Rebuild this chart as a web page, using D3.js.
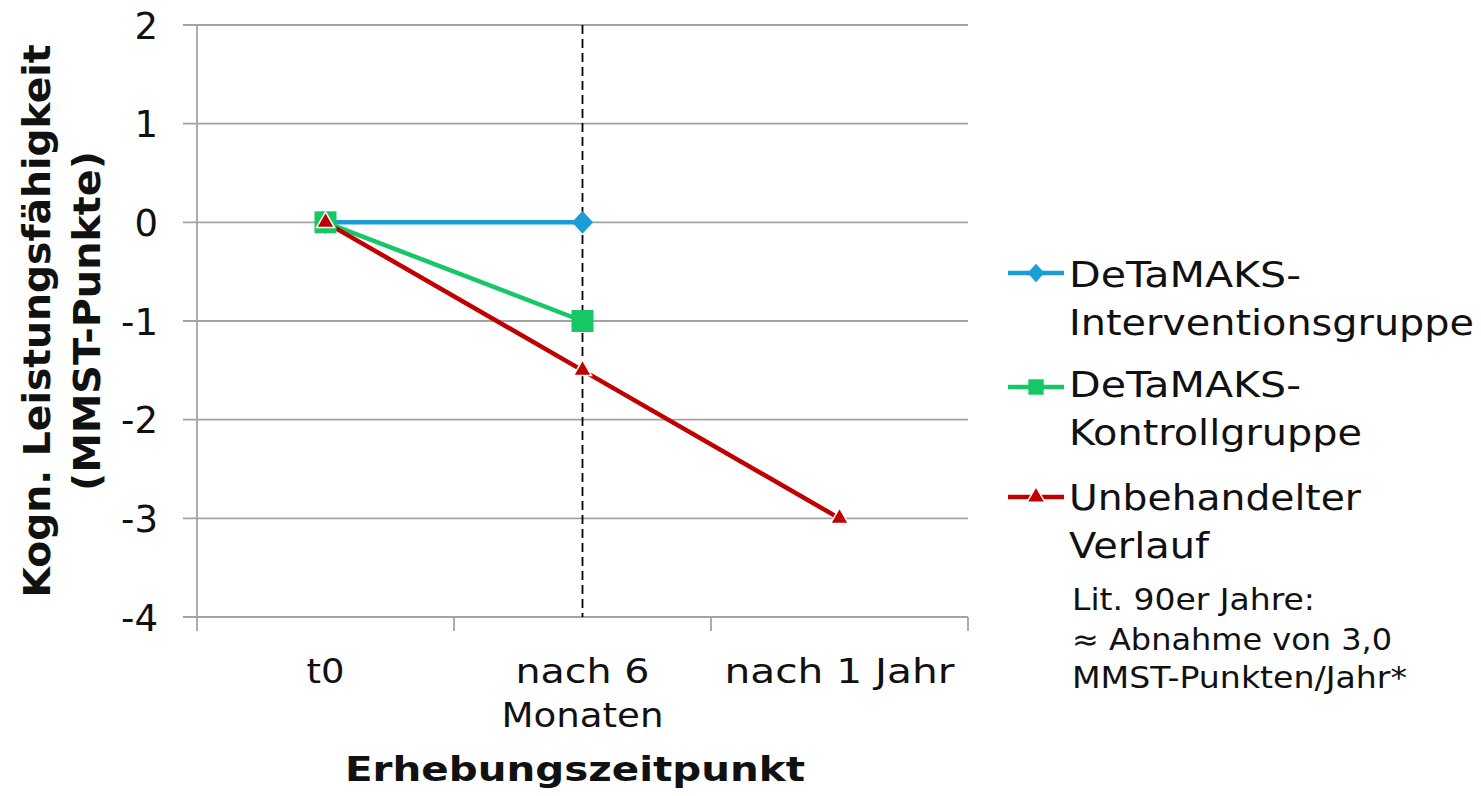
<!DOCTYPE html>
<html><head><meta charset="utf-8">
<script src="https://cdn.jsdelivr.net/npm/d3@7"></script>
<style>body{margin:0;background:#fff}svg{display:block}text{font-family:"DejaVu Sans",Verdana,sans-serif}</style>
</head><body>
<svg id="c" width="1481" height="796"></svg>
<script>
const categories = ["t0", "nach 6 Monaten", "nach 1 Jahr"];
const categoryLines = [["t0"], ["nach 6", "Monaten"], ["nach 1 Jahr"]];
const yTicks = [2, 1, 0, -1, -2, -3, -4];
const interventionValues = [0, 0, null];
const kontrollValues = [0, -1, null];
const unbehandeltValues = [0, -1.5, -3];
const seriesNames = [["DeTaMAKS-", "Interventionsgruppe"], ["DeTaMAKS-", "Kontrollgruppe"], ["Unbehandelter", "Verlauf"]];
const noteLines = ["Lit. 90er Jahre:", "≈ Abnahme von 3,0", "MMST-Punkten/Jahr*"];
const yTitleLines = ["Kogn. Leistungsfähigkeit", "(MMST-Punkte)"];
const xTitle = "Erhebungszeitpunkt";
const dashedAt = "nach 6 Monaten";

// rendered text widths (style only) to emulate the reference's wider typeface
const textWidths = {
  "t0": 38, "nach 6": 134, "Monaten": 162, "nach 1 Jahr": 230,
  "Erhebungszeitpunkt": 460,
  "Kogn. Leistungsfähigkeit": 553, "(MMST-Punkte)": 340,
  "DeTaMAKS-": 232, "Interventionsgruppe": 405, "Kontrollgruppe": 293,
  "Unbehandelter": 292, "Verlauf": 140,
  "Lit. 90er Jahre:": 243, "≈ Abnahme von 3,0": 320, "MMST-Punkten/Jahr*": 335
};
function fit(sel, t) {
  if (textWidths[t]) sel.attr("textLength", textWidths[t]).attr("lengthAdjust", "spacingAndGlyphs");
  return sel;
}

const svg = d3.select("#c");
const L = 197, R = 968, T = 25, B = 617;
const x = d3.scaleBand().domain(categories).range([L, R]);
const y = d3.scaleLinear().domain([-4, 2]).range([B, T]);
const grid = "#a3a3a3";
const ink = "#111";

// gridlines + left tick marks
svg.append("g").selectAll("line").data(yTicks).join("line")
  .attr("x1", L - 14).attr("x2", R).attr("y1", d => y(d)).attr("y2", d => y(d))
  .attr("stroke", grid).attr("stroke-width", 1.8);
svg.append("line").attr("x1", L).attr("x2", L).attr("y1", T).attr("y2", B).attr("stroke", grid).attr("stroke-width", 1.8);
const xt = categories.map(c => x(c)).concat([R]);
svg.append("g").selectAll("line").data(xt).join("line")
  .attr("x1", d => d).attr("x2", d => d).attr("y1", B).attr("y2", B + 14)
  .attr("stroke", grid).attr("stroke-width", 1.8);

// y tick labels
svg.append("g").selectAll("text").data(yTicks).join("text")
  .attr("x", 158).attr("y", d => y(d)).attr("dy", "0.37em").attr("text-anchor", "end")
  .attr("font-size", 37).attr("fill", ink).text(d => d);

// x tick labels
const cx = c => x(c) + x.bandwidth() / 2;
categories.forEach((c, i) => {
  categoryLines[i].forEach((t, j) => {
    fit(svg.append("text").attr("x", cx(c)).attr("y", 683 + j * 44).attr("text-anchor", "middle")
      .attr("font-size", 34).attr("fill", ink).text(t), t);
  });
});

// axis titles
fit(svg.append("text").attr("x", 575).attr("y", 781).attr("text-anchor", "middle")
  .attr("font-size", 34).attr("font-weight", "bold").attr("fill", ink).text(xTitle), xTitle);
const yt = svg.append("g").attr("transform", "translate(0,321) rotate(-90)");
yTitleLines.forEach((t, j) => {
  fit(yt.append("text").attr("x", 0).attr("y", 50 + j * 50).attr("text-anchor", "middle")
    .attr("font-size", 37).attr("font-weight", "bold").attr("fill", ink).text(t), t);
});

// dashed line
svg.append("line").attr("x1", cx(dashedAt)).attr("x2", cx(dashedAt)).attr("y1", T).attr("y2", B)
  .attr("stroke", "#000").attr("stroke-width", 1.8).attr("stroke-dasharray", "9,5");

const series = [
  {values: interventionValues, color: "#1b9dd6"},
  {values: kontrollValues, color: "#16c766"},
  {values: unbehandeltValues, color: "#c00000"}
];
const line = d3.line().defined(d => d.v !== null).x(d => cx(d.c)).y(d => y(d.v));

function marker(g, sIdx, px, py, scale) {
  const s = series[sIdx];
  let p;
  if (sIdx === 0) {
    const w = 10.5 * scale, h = 11.5 * scale;
    p = g.append("path").attr("d", "M0," + (-h) + "L" + w + ",0L0," + h + "L" + (-w) + ",0Z");
  } else if (sIdx === 1) {
    p = g.append("path").attr("d", d3.symbol(d3.symbolSquare, 484 * scale * scale)());
  } else {
    p = g.append("path").attr("d", d3.symbol(d3.symbolTriangle, 140 * scale * scale)())
      .attr("stroke", "#fff").attr("stroke-width", 1.5);
  }
  p.attr("transform", "translate(" + px + "," + py + ")").attr("fill", s.color);
  return p;
}
series.forEach(s => {
  const pts = categories.map((c, k) => ({c, v: s.values[k]}));
  svg.append("path").datum(pts).attr("d", line).attr("fill", "none")
    .attr("stroke", s.color).attr("stroke-width", 4.5).attr("stroke-linejoin", "round");
});
series.forEach((s, i) => {
  const g = svg.append("g");
  categories.forEach((c, k) => {
    if (s.values[k] !== null) marker(g, i, cx(c), y(s.values[k]), 1);
  });
});

// legend
const legY = [273, 387, 497];
const legScale = [0.8, 0.7, 1];
const legText = [[287, 335], [397, 445], [510, 558]];
series.forEach((s, i) => {
  svg.append("line").attr("x1", 1008).attr("x2", 1064).attr("y1", legY[i]).attr("y2", legY[i])
    .attr("stroke", s.color).attr("stroke-width", 4.5);
  marker(svg, i, 1036, legY[i], legScale[i]);
  seriesNames[i].forEach((t, j) => {
    fit(svg.append("text").attr("x", 1069).attr("y", legText[i][j])
      .attr("font-size", 35).attr("fill", ink).text(t), t);
  });
});
const noteY = [610, 650, 688];
noteLines.forEach((t, j) => {
  fit(svg.append("text").attr("x", 1072).attr("y", noteY[j])
    .attr("font-size", 30).attr("fill", ink).text(t), t);
});
</script>
</body></html>
